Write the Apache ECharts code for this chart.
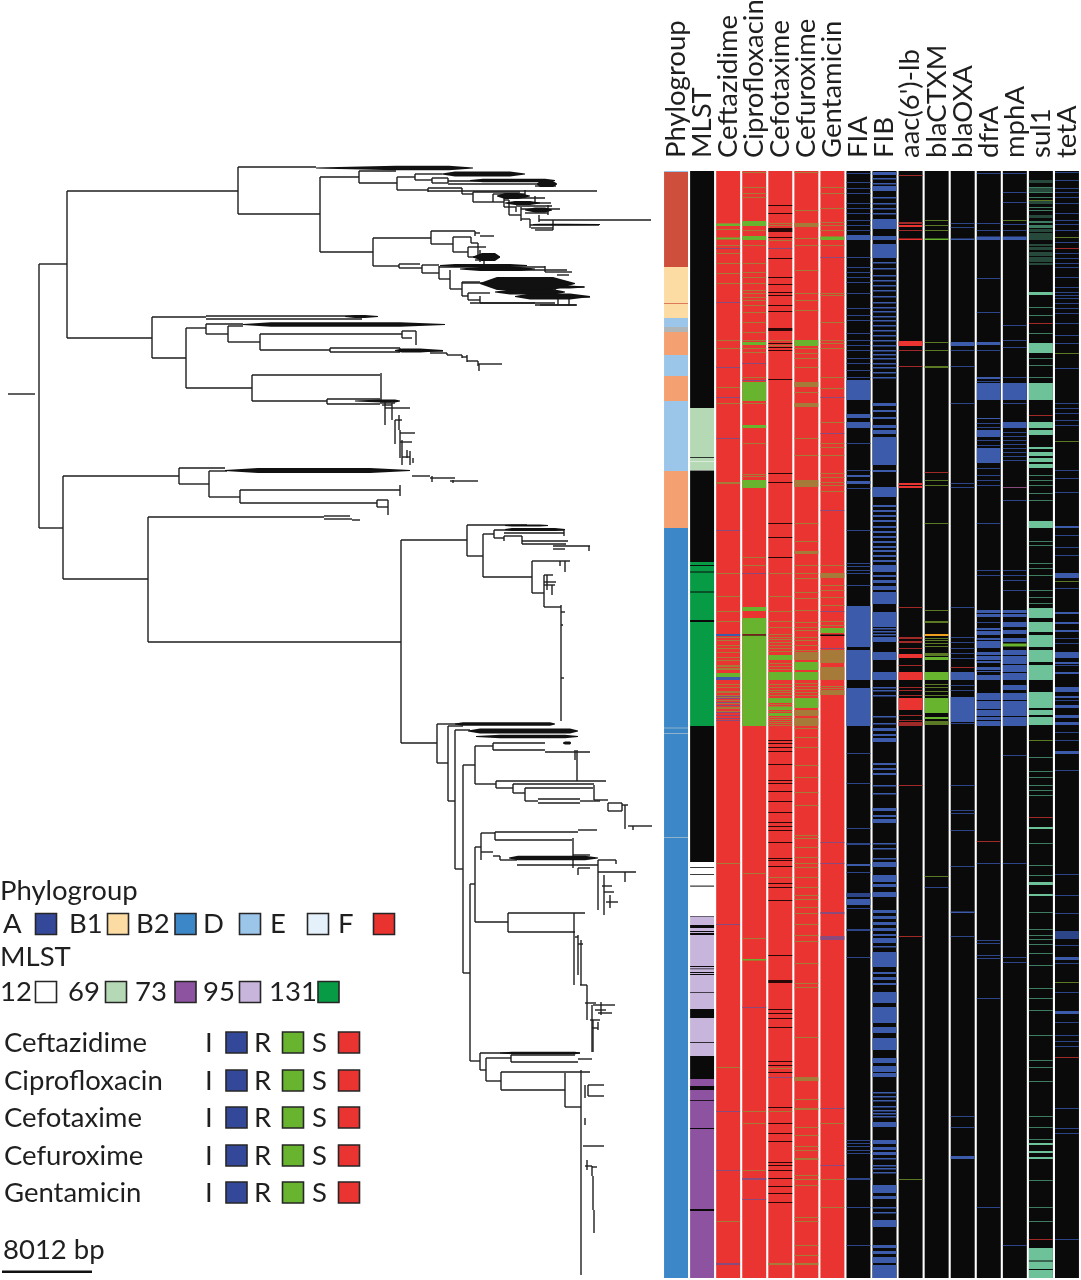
<!DOCTYPE html>
<html><head><meta charset="utf-8">
<style>html,body{margin:0;padding:0;background:#fff}#c{width:1081px;height:1280px}</style>
<script src="https://cdn.jsdelivr.net/npm/echarts@6/dist/echarts.min.js"></script>
</head><body><div id="c"></div>
<script>
// ---------- colours by state ----------
const palette = {S:'#ea3432',R:'#68b42e',I:'#3d5bab',N:'#0a0a0a',W:'#ffffff',T:'#6dc29a',
  F:'#cf4f3d',Y:'#fcdca3',L:'#9cc5ea',G:'#b0b5b8',O:'#f4a070',D:'#3c87c8',K:'#b5d8b5',
  M:'#079b45',P:'#c8b5dc',U:'#8d52a0',Z:'#f0a020',A:'#8fb3cd',
  r:'#a67a38',j:'#8a4a7c',i:'#2c4488',t:'#3f7d63',s:'#a02a28',g:'#5c7a25',n:'#2a0808',H:'#26493c'};

// ---------- heat-map columns ----------
const trackNames = ['Phylogroup','MLST','Ceftazidime','Ciprofloxacin','Cefotaxime','Cefuroxime','Gentamicin','FIA','FIB',"aac(6')-lb",'blaCTXM','blaOXA','dfrA','mphA','sul1','tetA'];
const rangeTop = 171, rangeBottom = 1278;

// blocks are [from,to,state]; the thin lists hold single-genome rows
const phyloBlocks = [[170,172,'L'],[172,267,'F'],[267,318,'Y'],[318,327,'L'],[327,332,'G'],[332,355,'O'],[355,376,'L'],[376,401,'O'],[401,471,'L'],[471,528,'O'],[528,1278,'D'],[303,303.7,'F'],[727.5,728.5,'A'],[733,734,'A'],[837,838,'A']];
const mlstBlocks = [[171,408,'N'],[408,470,'K'],[457,457.8,'N'],[461,461.5,'W'],[470.5,562,'N'],[562,726,'M'],[565,566,'N'],[571.5,572.5,'N'],[591.5,592.5,'N'],[620,622,'N'],[726,862,'N'],[862,916,'W'],[867,867.8,'N'],[874,874.8,'N'],[885.6,886.6,'N'],[916,1009,'P'],[916.5,917,'N'],[925,928,'N'],[931,932,'N'],[933,935,'N'],[966,967,'N'],[968.5,969.2,'N'],[972,973,'N'],[974,975,'N'],[992,992.7,'N'],[1009,1018,'N'],[1018,1056,'P'],[1042,1042.8,'N'],[1056,1079,'N'],[1079,1278,'U'],[1086,1090,'N'],[1100,1100.8,'N'],[1128,1129,'N'],[1209,1211,'N']];

const ceftazidimeBlocks = [[224,226,'R'],[237.5,239.5,'R'],[634,636,'I'],[673,678,'R'],[677,680,'I']];
const ceftazidimeR = [223,229,245,253,263,273,283,340,348,387,403,482,483,573,596,611,621,637,640,645,648,652,657,660,665,666,668,669,684,687,691,692,695,697,700,703,707,708,711,863,1067,1221];
const ceftazidimeI = [248,302,367,397,438,530,696,698,702,705,712,715,718,720,924,1111,1170,1263,1264];

const ciproBlocks = [[221,226,'R'],[236,240,'R'],[342,345,'R'],[382,401,'R'],[425,428,'R'],[480,488,'R'],[607,611,'R'],[618,634,'R'],[635.5,726,'R'],[634.5,635.5,'N'],[959,960.5,'R']];
const ciproR = [172,187,193,197,230,245,263,272,277,283,290,293,297,300,305,312,322,332,340,348,352,377,403,443,474,476,557,565,873,938,1111,1123,1170];
const ciproI = [363,380,573,1007,1178,1179,1199];

const cefotaximeBlocks = [[228,232,'n'],[328,331,'n'],[672,680,'R'],[655,660,'R'],[698,703,'R'],[707,710,'R'],[713,716,'R'],[980,983,'n']];
const cefotaximeN = [205,213,237,258,277,284,292,295,305,311,343,347,350,379,473,482,523,537,557,740,743,747,751,764,780,783,791,801,812,822,826,830,842,858,860,866,883,887,900,955,1009,1013,1018,1027,1061,1065,1072,1107,1123,1133,1141,1162,1165,1170,1178,1186,1193,1202];
const cefotaximeR = [223,225,240,340,345,482,573,596,611,621,627,634,637,639,642,645,648,651,663,666,669,684,687,690,692,695,704,706,711,717,719,721,723,725,877,1068,1111,1263,1264];
const cefotaximeI = [248,277,1077];

const cefuroximeBlocks = [[223,227,'r'],[340,346,'R'],[382,387,'r'],[403,407,'r'],[480,487,'r'],[652,660,'r'],[662,670,'R'],[672,680,'R'],[698,708,'R'],[710,716,'r'],[718,726,'r'],[1077,1081,'r']];
const cefuroximeR = [172,210,238,245,270,293,300,310,348,353,358,367,392,438,455,523,541,551,552,553,565,573,578,592,598,610,622,627,630,637,640,645,650,683,686,689,692,695,728,737,747,765,777,792,805,835,838,847,857,863,867,877,887,895,899,907,913,924,935,941,963,983,987,1037,1099,1108,1109,1127,1135,1146,1150,1158,1159,1175,1179,1185,1217,1221,1245,1255,1263,1264];

const gentamicinBlocks = [[236.5,240,'R'],[573,578,'r'],[628,633,'R'],[650,663,'r'],[667,680,'r'],[690,695,'r'],[936,940,'j'],[634.5,636,'N']];
const gentamicinR = [187,193,208,222,225,230,245,293,295,322,340,343,348,377,388,422,443,447,455,473,477,482,485,491,565,585,590,597,605,621,625,686,688,1123,1179,1207];
const gentamicinI = [257,397,433,510,611,648,842,863,912,913,1108,1165];

const fiaBlocks = [[235,240,'I'],[380,400,'I'],[606,647,'I'],[650,680,'I'],[688,726,'I'],[893,897,'i'],[899,905,'I'],[864,866,'I'],[475,477,'I'],[481,484,'I'],[414,418,'I'],[422,428,'I']];
const fiaI = [173,182,188,193,203,208,213,220,225,230,257,267,272,277,282,293,308,315,320,333,340,345,350,358,363,370,377,443,470,488,530,563,566,570,573,585,753,783,828,843,844,872,908,929,930,957,1140,1143,1146,1150,1153,1178,1179,1207,1245];

const fibBlocks = [[172,175,'I'],[186,191,'I'],[219,229,'I'],[236,240,'I'],[244,258,'I'],[403,406,'I'],[410,412,'I'],[417,419,'I'],[425,428,'I'],[430,434,'I'],[437,465,'I'],[470,472,'I'],[487,497,'I'],[505,507,'I'],[510,512,'I'],[515,517,'I'],[520,522,'I'],[526,528,'I'],[531,533,'I'],[536,538,'I'],[541,543,'I'],[546,548,'I'],[550,552,'I'],[555,557,'I'],[560,562,'I'],[565,572,'I'],[575,577,'I'],[580,583,'I'],[586,590,'I'],[592,604,'I'],[612,627,'I'],[637,642,'I'],[652,660,'I'],[672,680,'I'],[728,731,'I'],[734,736,'I'],[738,742,'I'],[763,765,'I'],[768,770,'I'],[773,775,'I'],[808,811,'I'],[815,817,'I'],[819,823,'I'],[862,867,'I'],[875,882,'I'],[884,887,'I'],[892,897,'I'],[910,913,'I'],[916,919,'I'],[922,925,'I'],[928,931,'I'],[934,936,'I'],[938,943,'I'],[952,967,'I'],[972,974,'I'],[977,980,'I'],[983,985,'I'],[992,1003,'I'],[1007,1023,'I'],[1027,1033,'I'],[1038,1050,'I'],[1058,1063,'I'],[1066,1072,'I'],[1073,1077,'I'],[1122,1127,'I'],[1140,1144,'I'],[1147,1150,'I'],[1152,1155,'I'],[1185,1193,'I'],[1196,1199,'I'],[1220,1227,'I'],[1245,1248,'I'],[1251,1254,'I'],[1257,1263,'I'],[1265,1278,'I']];
const fibI = [178,183,197,203,208,213,262,268,275,280,285,290,296,302,307,311,316,320,325,330,335,340,345,350,354,358,363,367,372,377,628,631,634,687,690,695,716,723,785,793,843,848,858,946,1092,1096,1100,1106,1110,1113,1116,1158,1165,1168,1172,1207,1212];

const aacBlocks = [[225,227,'S'],[238.5,240,'S'],[341,346,'S'],[483,485,'S'],[486,488,'S'],[654,658,'S'],[672,680,'S'],[698,710,'S'],[722,726,'s'],[637,639,'s'],[641,643,'s']];
const aacS = [175,222,223,230,350,366,607,648,665,687,690,695,715,720,785,936];
const aacR = [1179];

const ctxBlocks = [[672,680,'R'],[698,713,'R'],[634,636,'Z'],[653,656,'g'],[657,660,'R'],[717,719,'R'],[721,725,'g'],[238.5,240,'R']];
const ctxR = [220,225,230,342,350,366,367,480,485,523,610,621,622,638,640,643,646,684,687,691,695,876];
const ctxS = [472];
const ctxI = [887];

const oxaBlocks = [[342,346,'I'],[672,680,'I'],[697,722,'I'],[238.5,240,'I'],[1156,1159,'I'],[911.5,913,'I']];
const oxaI = [223,227,350,366,403,483,487,607,637,642,648,653,658,685,690,723,785,810,813,830,866,936,1116,1127];
const oxaS = [667];

const dfrBlocks = [[236.5,240,'I'],[342,345,'I'],[377,379,'I'],[383,400,'I'],[430,437,'I'],[448,463,'I'],[610,617,'I'],[628,635,'I'],[638,648,'I'],[652,663,'I'],[667,672,'I'],[675,680,'I'],[693,726,'I'],[418,419,'I']];
const dfrI = [173,223,230,278,312,350,381,423,427,440,445,468,475,480,485,523,570,575,622,863,940,943,955,958,998,1207];
const dfrS = [841];
const dfrN = [613,630,640,655,660,670,700,709,716,720];

const mphBlocks = [[236.5,240,'I'],[383,400,'I'],[422,428,'I'],[610,617,'I'],[622,627,'I'],[630,634,'I'],[638,642,'I'],[650,680,'I'],[685,690,'I'],[693,726,'I'],[643.5,646.5,'R']];
const mphI = [173,192,202,224,230,325,340,347,377,403,432,436,440,444,448,452,456,460,500,570,575,580,590,755,863,957,962,1245];
const mphR = [220];
const mphS = [487];
const mphN = [613,628,655,664,672,700,716];

const sulBlocks = [[180,183,'H'],[188,193,'H'],[200,204,'H'],[215,218,'H'],[221,223,'t'],[225,228,'t'],[229,232,'H'],[233,240,'H'],[244,246,'H'],[247,250,'H'],[252,256,'H'],[257,262,'H'],[263,265,'H'],[343,353,'T'],[383,400,'T'],[422,428,'T'],[430,435,'T'],[447,449,'T'],[452,456,'T'],[458,462,'T'],[464,468,'T'],[521,528,'T'],[608,618,'T'],[622,632,'T'],[635,647,'T'],[650,662,'T'],[665,680,'T'],[692,708,'T'],[709,715,'T'],[717,725,'T'],[292,295,'T'],[827,829,'T'],[882,885,'T'],[894,896,'T'],[1248,1278,'T'],[1260.5,1261.5,'N'],[1269,1270,'N'],[1143,1145,'T'],[1151,1153,'T'],[1157,1159,'T']];
const sulT = [187,192,197,207,210,307,315,333,358,365,377,475,480,485,493,500,541,545,563,568,575,590,597,603,757,771,777,785,790,795,843,865,875,912,929,935,939,944,953,965,988,998,1010,1035,1060,1067,1081,1116,1127,1139,1180,1207,1221];
const sulS = [323,415,817,1239];
const sulR = [200,740];
const sulN = [619,633,648,663,709,716];

const tetBlocks = [[526,528,'I'],[573,578,'I'],[931,939,'i'],[957,960,'I'],[1011,1014,'I'],[687,690,'I'],[652,656,'I'],[751,754,'I'],[612,614,'I'],[622,624,'I'],[630,632,'I'],[655,658,'I'],[662,664,'I'],[672,674,'I'],[687,692,'I'],[696,698,'I'],[705,708,'I'],[715,718,'I'],[722,725,'I']];
const tetI = [172,180,188,192,197,203,213,220,224,230,242,253,258,263,267,277,287,292,295,298,303,308,313,323,335,343,368,403,408,413,420,425,470,478,492,535,547,555,588,638,643,665,700,732,740,770,874,895,913,945,963,992,1022,1035,1041,1046,1108,1128,1133,1239];
const tetR = [237,353,441,581,982];
const tetS = [248,1057];

// ---------- tree ----------
const treeH = [[394,8,35],[264,39,67],[528,39,63],[191,67,238],[338,67,152],
[167,238,316],[214,238,320],[177,320,359],[252,320,373],[171,359,396],[183,359,397],[177,397,415],[190,397,428],
[174,415,442],[180,415,432],[178,432,448],[183,432,448],[181,448,530],[184,448,555],[186,535,556],
[188,428,462],[191,428,597],[194,462,473],[192,473,520],[202,473,493],[194,493,525],[202,493,504],[198,504,545],[207,504,516],
[200,504,509],[215,509,521],[206,516,552],[209,521,560],[219,521,530],[220,539,651],[225,530,599],[228,531,553],[230,535,553],[213,525,548],[203,530,551],
[238,373,431],[266,373,399],[231,431,475],[244,431,453],[233,475,480],[236,480,494],[237,453,471],[252,453,468],[247,468,486],[257,468,500],[260,475,490],[243,471,478],
[264,399,420],[268,399,422],[265,422,439],[273,422,439],[279,439,450],[267,439,545],[270,500,567],[272,545,572],[275,557,569],
[283,462,490],[289,450,462],[282,462,480],[296,462,468],[293,468,490],[300,468,480],[303,480,535],[305,535,577],[303,470,555],[283,555,568],[287,555,584],[297,555,590],[305,540,576],
[317,152,206],[358,152,186],[316,206,355],[319,206,362],[328,186,206],[388,186,252],[324,206,243],[334,206,228],[326,228,243],[342,228,260],
[334,260,402],[350,260,330],[331,402,416],[338,402,412],[348,330,400],[352,330,400],[351,400,443],[353,430,447],[355,447,462],[357,462,467],[361,467,478],[364,478,502],
[375,252,380],[401,252,327],[399,327,380],[404,327,380],[405,382,392],[408,385,410],[420,395,402],[433,400,415],[442,400,412],[403,380,395],[457,402,410],
[476,63,179],[468,179,225],[484,179,209],[471,209,227],[497,209,240],[490,240,400],[503,240,377],[500,377,388],[507,377,388],[476,412,430],[478,430,455],[481,450,478],
[579,63,148],[517,148,324],[642,148,401],[516,324,350],[519,324,352],[520,352,360],[540,401,467],[743,401,437],
[525,467,527],[556,467,483],[534,483,494],[577,483,532],[530,494,564],[538,494,504],[533,504,564],[536,504,522],[544,522,566],[541,522,568],[546,553,590],[549,553,565],
[561,532,560],[593,532,544],[561,560,570],[575,544,553],[582,544,556],[585,544,555],[607,544,561],[612,561,565],[625,561,563],[678,561,564],
[724,437,463],[763,437,448],[726,448,463],[801,448,455],[730,455,470],[869,455,463],[746,475,493],[784,475,496],[743,493,545],[750,493,545],[752,545,590],[781,496,606],[788,496,513],[784,513,594],
[793,513,525],[788,525,593],[801,525,538],[799,538,580],[803,538,580],[801,580,600],[800,594,608],[803,608,622],[811,608,622],[826,628,652],[805,622,628],
[765,463,475],[847,475,481],[833,481,495],[832,495,578],[830,578,597],[840,495,572],[855,573,590],[868,578,590],
[852,481,493],[856,493,500],[860,500,517],[865,517,598],[860,598,616],[872,598,636],[886,602,612],[892,604,614],[902,606,618],
[884,470,475],[922,475,508],[913,508,585],[932,508,575],[937,575,578],[944,578,583],[985,580,587],[1003,585,596],[1005,593,615],[1010,595,606],[1013,598,612],[1020,590,600],[1028,592,598],
[973,463,470],[1061,470,480],[1053,480,580],[1070,480,486],[1058,486,511],[1081,486,501],[1055,511,575],[1062,511,578],[1059,578,592],
[1072,501,590],[1090,501,565],[1107,565,581],[1085,588,604],[1096,588,604],[1146,583,604],[1166,585,592],[1167,592,597]];
const treeV = [[39,264,528],[67,191,338],[238,167,214],[320,177,252],[359,171,183],[397,177,190],[415,174,180],[432,178,183],[428,188,192],[448,178,183],
[462,188,194],[473,192,202],[493,194,202],[504,194,207],[509,200,215],[516,207,212],[521,207,221],[530,219,228],[539,215,222],[548,205,215],[535,196,203],[553,220,230],[525,190,198],
[373,238,266],[431,231,244],[453,237,252],[468,247,257],[471,237,243],[475,231,236],[478,243,256],[480,250,262],[484,257,264],
[399,264,268],[422,265,273],[439,266,279],[450,270,289],[462,282,296],[468,293,300],[545,266,272],[480,296,303],[555,283,298],[569,299,306],[558,298,305],
[152,317,358],[186,328,388],[206,324,334],[228,326,342],[260,334,350],[402,331,338],[416,331,345],[330,348,352],[400,348,352],[447,353,355],[462,355,358],[467,355,362],[478,361,366],[479,364,371],
[252,375,401],[381,373,400],[327,399,404],[385,401,425],[392,403,420],[395,420,444],[400,430,458],[402,440,465],[410,451,465],[399,415,430],[407,450,458],[413,458,463],
[179,468,484],[209,471,497],[240,490,503],[400,485,496],[377,500,507],[388,500,515],[432,476,482],[453,480,483],
[63,476,579],[148,517,642],[401,540,743],[467,525,556],[483,534,577],[494,530,538],[504,536,541],[522,536,544],[564,530,536],[589,546,551],
[532,561,593],[544,575,607],[560,561,566],[565,561,572],[561,605,721],[547,575,590],[552,585,595],
[437,724,763],[448,726,801],[455,730,869],[463,765,973],[475,746,784],[493,743,750],[496,781,788],[513,784,793],[525,788,801],[575,750,760],[577,750,781],[594,785,800],[608,803,811],[622,803,811],[625,805,829],[633,826,830],
[475,847,922],[481,833,860],[495,832,840],[573,838,868],[578,868,875],[598,860,910],[616,860,864],[625,872,882],[604,875,915],[610,895,908],[500,856,860],
[470,884,1061],[508,913,932],[574,913,985],[578,935,975],[581,940,985],[587,985,1020],[592,1005,1052],[593,1020,1052],[598,1022,1030],[601,1002,1015],
[480,1053,1070],[486,1058,1081],[511,1055,1062],[501,1072,1090],[565,1073,1107],[581,1070,1275],[585,1085,1098],[588,1085,1096],[585,1118,1125],[587,1160,1170],[592,1166,1176],[593,1176,1210],[594,1210,1233]];
// dense single-strain bundles: [start, full from, full to, end, y, half height]
const treeBundles = [[316,396,449,473,168,2.2],[442,455,510,525,174,2.5],[470,483,545,555,180.5,1.7],[537,540,553,557,184,3],[497,505,518,530,196,3],[505,515,530,540,203,2],[525,535,545,552,210,2.5],
[533,540,565,600,224.5,.8],[473,482,495,500,257,4],[440,455,510,527,265.5,1.6],[460,480,520,535,269,2],[480,497,553,575,283.5,6.5],[495,510,555,565,292,2.5],[515,530,570,590,296.5,3],[545,550,570,585,287,1.5],
[345,355,365,378,316.5,1.5],[243,271,400,445,324.5,2.2],[395,402,420,443,350.5,2],[355,382,395,400,401,1.5],[225,258,370,410,470.5,2.4],
[505,512,540,548,525.5,1],[505,512,555,565,529.5,1.4],[455,463,550,555,724,1.8],[468,480,570,578,731,2.5],[476,500,565,578,736.5,1.8],[563,565,570,571,743,1.6],[509,518,585,598,858,2.2],[500,512,575,580,1053,1.3]];

// ---------- legend ----------
const phyloLegend = [['A','#34489a'],['B1','#fcdca3'],['B2','#3c87c8'],['D','#9cc5ea'],['E','#e4f1fb'],['F','#e9332f']];
const mlstLegend = [['12','#ffffff'],['69','#b5d8b5'],['73','#8d52a0'],['95','#c8b5dc'],['131','#079b45']];
const drugLegend = ['Ceftazidime','Ciprofloxacin','Cefotaxime','Cefuroxime','Gentamicin'];
const susceptLegend = [['I','#34489a'],['R','#68b42e'],['S','#ea3432']];
const scaleText = '8012 bp';

// ---------- assemble ----------
function thin(list,state,h){return list.map(y=>[y,y+(h||1),state]);}
const tracks = [
 [['W'],phyloBlocks],[['W'],mlstBlocks],
 [['S'],ceftazidimeBlocks,thin(ceftazidimeR,'r'),thin(ceftazidimeI,'j')],
 [['S'],ciproBlocks,thin(ciproR,'r'),thin(ciproI,'j')],
 [['S'],cefotaximeBlocks,thin(cefotaximeR,'r'),thin(cefotaximeI,'j'),thin(cefotaximeN,'n')],
 [['S'],cefuroximeBlocks,thin(cefuroximeR,'r')],
 [['S'],gentamicinBlocks,thin(gentamicinR,'r'),thin(gentamicinI,'j')],
 [['N'],fiaBlocks,thin(fiaI,'i')],
 [['N'],fibBlocks,thin(fibI,'I',1.5)],
 [['N'],aacBlocks,thin(aacS,'s'),thin(aacR,'g')],
 [['N'],ctxBlocks,thin(ctxR,'g'),thin(ctxS,'s'),thin(ctxI,'i')],
 [['N'],oxaBlocks,thin(oxaI,'i'),thin(oxaS,'s')],
 [['N'],dfrBlocks,thin(dfrI,'i'),thin(dfrS,'s'),thin(dfrN,'N')],
 [['N'],mphBlocks,thin(mphI,'i'),thin(mphR,'g'),thin(mphS,'j'),thin(mphN,'N')],
 [['N'],sulBlocks,thin(sulT,'t'),thin(sulS,'s'),thin(sulR,'g'),thin(sulN,'N')],
 [['N'],tetBlocks,thin(tetI,'i'),thin(tetR,'g'),thin(tetS,'s')]
];
const heatData = [];
tracks.forEach((t,i)=>{
  const base=t[0][0];
  if(base!=='W') heatData.push([i,rangeTop,rangeBottom,base]);
  t.slice(1).forEach(group=>group.forEach(b=>heatData.push([i,b[0],b[1],b[2]])));
});

const treeData = [];
treeH.forEach(s=>treeData.push([s[1],s[0],s[2],s[0]]));
treeV.forEach(s=>treeData.push([s[0],s[1],s[0],s[2]]));

const font='Lato, "Open Sans", sans-serif', ink='#1f1f1f', fontSize=27.5;
const g=[];
function label(text,x,y){g.push({type:'text',x:x,y:y,silent:true,style:{text:text,font:fontSize+'px '+font,fill:ink,textVerticalAlign:'middle',textBaseline:'middle'}});}
function box(x,y,color){g.push({type:'rect',silent:true,shape:{x:x,y:y,width:21,height:21},style:{fill:color,stroke:'#262626',lineWidth:1.6}});}
label('Phylogroup',0,891);
const phyloTextX=[3,69,136,203,270,338], phyloBoxX=[35.5,107.5,175,239.5,307.5,373.5];
phyloLegend.forEach((p,i)=>{label(p[0],phyloTextX[i],924);box(phyloBoxX[i],913.5,p[1]);});
label('MLST',0,957);
const mlstTextX=[0,68,135,203,269], mlstBoxX=[35.5,105.5,175,239.5,318];
mlstLegend.forEach((p,i)=>{label(p[0],mlstTextX[i],992);box(mlstBoxX[i],981.5,p[1]);});
const rowY=[1043,1081,1118,1156,1193], sTextX=[205,254,312], sBoxX=[226,282.5,338.5];
drugLegend.forEach((d,r)=>{
  label(d,4,rowY[r]);
  susceptLegend.forEach((s,i)=>{label(s[0],sTextX[i],rowY[r]);box(sBoxX[i],rowY[r]-11,s[1]);});
});
label(scaleText,3,1250);
g.push({type:'rect',silent:true,shape:{x:2,y:1270.5,width:90,height:2.4},style:{fill:'#111'}});

const chart=echarts.init(document.getElementById('c'),null,{renderer:'canvas'});
chart.setOption({
 animation:false,backgroundColor:'#fff',
 grid:[{left:0,top:0,width:1081,height:1280,outerBoundsMode:'none'},{left:663,top:rangeTop,width:417,height:rangeBottom-rangeTop,outerBoundsMode:'none'}],
 xAxis:[
  {type:'value',gridIndex:0,min:0,max:1081,show:false},
  {type:'category',gridIndex:1,position:'top',data:trackNames,
   axisLine:{show:false},axisTick:{show:false},splitLine:{show:false},
   axisLabel:{interval:0,rotate:-90,fontFamily:font,fontSize:fontSize,color:ink,margin:13}}
 ],
 yAxis:[
  {type:'value',gridIndex:0,min:0,max:1280,inverse:true,show:false},
  {type:'value',gridIndex:1,min:rangeTop,max:rangeBottom,inverse:true,show:false}
 ],
 series:[
  {type:'custom',xAxisIndex:0,yAxisIndex:0,silent:true,data:treeData,clip:false,
   encode:{x:[0,2],y:[1,3]},
   renderItem:(p,api)=>{
     const a=api.coord([api.value(0),api.value(1)]),b=api.coord([api.value(2),api.value(3)]);
     return {type:'line',shape:{x1:a[0],y1:a[1],x2:b[0],y2:b[1]},style:{stroke:'#1e1e1e',lineWidth:1.4}};
   }},
  {type:'custom',xAxisIndex:0,yAxisIndex:0,silent:true,data:treeBundles,clip:false,
   encode:{x:[0,3],y:4},
   renderItem:(p,api)=>{
     const x0=api.value(0),x1=api.value(1),x2=api.value(2),x3=api.value(3),y=api.value(4),h=api.value(5);
     const pts=[[x0,y-.5],[x1,y-h],[x2,y-h],[x3,y-.4],[x3,y+.4],[x2,y+h],[x1,y+h],[x0,y+.5]].map(q=>api.coord(q));
     return {type:'polygon',shape:{points:pts},style:{fill:'#111'}};
   }},
  {type:'custom',xAxisIndex:1,yAxisIndex:1,silent:true,data:heatData,clip:true,
   encode:{x:0,y:[1,2]},
   renderItem:(p,api)=>{
     const i=api.value(0);
     const a=api.coord([i,api.value(1)]),b=api.coord([i,api.value(2)]);
     const w=api.size([1,0])[0]-2.1;
     return {type:'rect',shape:{x:a[0]-w/2,y:a[1],width:w,height:b[1]-a[1]},style:{fill:palette[heatData[p.dataIndex][3]]}};
   }}
 ],
 graphic:g
});
</script></body></html>
